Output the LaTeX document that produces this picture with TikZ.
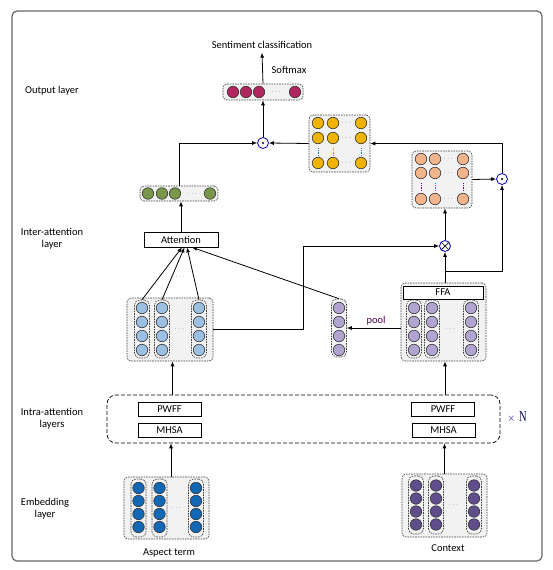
\documentclass[tikz,border=0pt]{standalone}
\usepackage{fontspec}
\setmainfont{Carlito}
\newfontfamily\serifN{Liberation Serif}
\usepackage{amsmath}
\usepackage{tikz}
\usetikzlibrary{arrows, arrows.meta}

\definecolor{magc}{RGB}{178,38,96}
\definecolor{grnc}{RGB}{122,150,72}
\definecolor{yelc}{RGB}{238,178,0}
\definecolor{orgc}{RGB}{242,180,138}
\definecolor{bluc}{RGB}{155,192,226}
\definecolor{lavc}{RGB}{178,164,208}
\definecolor{embb}{RGB}{18,104,180}
\definecolor{embp}{RGB}{96,78,140}

\begin{document}
\begin{tikzpicture}[x=1pt, y=-1pt, font=\fontsize{10.5}{12}\selectfont]
\tikzstyle{unit}=[circle, draw=black!80, line width=0.6pt, minimum size=11.5pt, inner sep=0pt]
\tikzstyle{vbox}=[draw=black!75, dash pattern=on 1.6pt off 1pt, rounded corners=4pt, fill=black!5, line width=0.6pt, inner sep=0pt]
\tikzstyle{cbox}=[vbox, minimum width=15pt, minimum height=58pt, rounded corners=5pt]
\tikzstyle{tbox}=[draw, line width=0.7pt, minimum width=63pt, minimum height=14pt, inner sep=0pt]
\tikzstyle{op}=[circle, draw=blue!70!black, line width=0.8pt, fill=white, minimum size=11pt, inner sep=0pt]
\tikzstyle{odot}=[op, path picture={\fill[black] (path picture bounding box.center) circle (1.1pt);}]
\tikzstyle{otimes}=[op, path picture={\draw[black, line width=0.7pt] (path picture bounding box.north west) -- (path picture bounding box.south east) (path picture bounding box.north east) -- (path picture bounding box.south west);}]
\tikzstyle{arr}=[-{Latex[length=5pt,width=4pt]}, line width=0.8pt]
\tikzstyle{hdots}=[font=\fontsize{7}{7}\selectfont, text=black!65, inner sep=0pt]
\tikzstyle{vdot}=[line width=1pt, dash pattern=on 1.2pt off 1.2pt]
\tikzstyle{lbl}=[align=center, inner sep=0pt]

\useasboundingbox (0,0) rectangle (553,570);
\draw[black!60, line width=1.2pt, rounded corners=5pt] (12,11) rectangle (542,561);

% layer names
\node[lbl] (l1) at (52,91) {Output layer};
\node[lbl] (l2) at (52,238.5) {Inter-attention\\layer};
\node[lbl] (l3) at (52,419) {Intra-attention\\layers};
\node[lbl] (l4) at (45,508.5) {Embedding\\layer};

% output layer
\node[lbl, outer sep=4pt] (sent) at (262,45) {Sentiment classification};
\node[lbl] (smax) at (289,70) {Softmax};
\node[vbox, minimum width=80pt, minimum height=16pt] (mag) at (263,92) {};
\foreach \x in {233,246,259,295} \node[unit, fill=magc] (m\x) at (\x,92) {};
\node[hdots] (md) at (277,92) {$\cdots$};

\node[odot] (dot1) at (263,143) {};
\node[odot] (dot2) at (502,179) {};

\node[vbox, minimum width=61pt, minimum height=57pt] (yel) at (339.5,143.5) {};
\foreach \y in {123,138,163}{
  \foreach \x in {318,333,361} \node[unit, fill=yelc] (y\x-\y) at (\x,\y) {};
  \node[hdots] (yd\y) at (347,\y) {$\cdots$};
}
\draw[vdot, cyan!70!blue] (318,147.5) -- (318,155);
\draw[vdot, orange] (333,147.5) -- (333,155);
\draw[vdot, cyan!70!blue] (361,147.5) -- (361,155);

\node[vbox, minimum width=60pt, minimum height=57pt] (org) at (442,179.5) {};
\foreach \y in {159,173,199}{
  \foreach \x in {421,435,463} \node[unit, fill=orgc] (o\x-\y) at (\x,\y) {};
  \node[hdots] (od\y) at (449,\y) {$\cdots$};
}
\draw[vdot, violet] (421,182.5) -- (421,190);
\draw[vdot, cyan!70!blue] (435,182.5) -- (435,190);
\draw[vdot, violet] (463,182.5) -- (463,190);

% inter-attention layer
\node[vbox, minimum width=78pt, minimum height=15pt] (grn) at (179,193.5) {};
\foreach \x in {148,162,175,210} \node[unit, fill=grnc] (g\x) at (\x,193.5) {};
\node[hdots] (gd) at (193,193.5) {$\cdots$};

\node[tbox, minimum width=74pt, minimum height=15pt] (att) at (181,239.5) {Attention};
\node[otimes] (mul) at (445,246) {};

\node[vbox, minimum width=86pt, minimum height=63pt] (blu) at (170,329.5) {};
\foreach \x/\n in {142/1,162/2,199/3} \node[cbox] (bc\n) at (\x,329) {};
\foreach \x in {142,162,199}
  \foreach \y in {308,322,336,350} \node[unit, fill=bluc] (b\x-\y) at (\x,\y) {};
\node[hdots] (bd) at (180,329) {$\cdots$};
\node[hdots] (ad) at (181,277) {$\cdots$};

\node[cbox] (pool) at (339,328) {};
\foreach \y in {308,322,336,350} \node[unit, fill=lavc] (p\y) at (339,\y) {};
\node[text=violet!60!black, inner sep=0pt] (pl) at (376,321) {pool};

\node[vbox, minimum width=85pt, minimum height=78pt] (ffabox) at (443.5,322) {};
\node[tbox, minimum width=80pt, minimum height=13pt, fill=white] (ffa) at (443,292.5) {FFA};
\foreach \x/\n in {414/1,432/2,471/3} \node[cbox] (fc\n) at (\x,329) {};
\foreach \x in {414,432,471}
  \foreach \y in {308,322,336,350} \node[unit, fill=lavc] (f\x-\y) at (\x,\y) {};
\node[hdots] (fd) at (451,329) {$\cdots$};

% intra-attention layers
\node[draw, dash pattern=on 4pt off 2pt, rounded corners=9pt, line width=0.7pt, minimum width=393pt, minimum height=48pt] (intra) at (303.5,419) {};
\node[tbox] (pw1) at (169.5,409) {PWFF};
\node[tbox] (mh1) at (169.5,430) {MHSA};
\node[tbox] (pw2) at (443,409) {PWFF};
\node[tbox] (mh2) at (443.5,430) {MHSA};
\node[lbl] (rep) at (517,417) {\textcolor{blue!60!black}{$\times$}\,\,\textcolor{blue!30!black}{\serifN\fontsize{15}{15}\selectfont\scalebox{0.7}[1]{N}}};

% embedding layer
\node[vbox, minimum width=85pt, minimum height=62pt] (emba) at (166.5,508) {};
\foreach \x/\n in {138.5/1,159.5/2,196/3} \node[cbox] (ea\n) at (\x,508) {};
\foreach \x in {138.5,159.5,196}
  \foreach \y in {488,501,514,527} \node[unit, fill=embb] (a\x-\y) at (\x,\y) {};
\node[hdots] (ed) at (177,508) {$\cdots$};
\node[lbl] (asp) at (169,553) {Aspect term};

\node[vbox, minimum width=85pt, minimum height=63pt] (embc) at (444.5,505.5) {};
\foreach \x/\n in {416/1,436/2,474/3} \node[cbox] (ec\n) at (\x,505) {};
\foreach \x in {416,436,474}
  \foreach \y in {485.5,498.5,511.5,524.5} \node[unit, fill=embp] (c\x-\y) at (\x,\y) {};
\node[hdots] (cd) at (454,505) {$\cdots$};
\node[lbl] (ctx) at (448,548) {Context};

\coordinate (bend) at (303,246);
\coordinate (split) at (445,271);

% connectors
\draw[arr] (mag.north) -- (sent.south);
\draw[arr] (dot1) -- (mag.south);
\draw[arr] (grn.north) |- (dot1.west);
\draw[arr] (yel.west) -- (dot1.east);
\draw[arr] (dot2.north) |- (yel.east);
\draw[arr] (org.east) -- (dot2.west);
\draw[arr] (mul.north) -- (mul.north |- org.south);
\draw[arr] (mul |- ffabox.north) -- (mul.south);
\draw[arr] (split) -| (dot2.south);
\draw[arr] (att.north) -- (att.north |- grn.south);
\draw[arr] (blu.east) -| (bend) -- (mul.west);
\draw[arr] (ffabox.west |- pool.east) -- (pool.east);
\draw[arr] (pool.north) -- ([xshift=11pt]att.south);
\draw[arr] (bc1.north) -- ([xshift=1pt]att.south);
\draw[arr] (bc2.north) -- ([xshift=3.5pt]att.south);
\draw[arr] (bc3.north) -- ([xshift=6pt]att.south);
\draw[arr] ([xshift=2.5pt]blu.south |- intra.north) -- ([xshift=2.5pt]blu.south);
\draw[arr] ([xshift=1.5pt]ffabox.south |- intra.north) -- ([xshift=1.5pt]ffabox.south);
\draw[arr] ([xshift=4.5pt]emba.north) -- ([xshift=4.5pt]emba.north |- intra.south);
\draw[arr] (embc.north) -- (embc.north |- intra.south);

\end{tikzpicture}
\end{document}
